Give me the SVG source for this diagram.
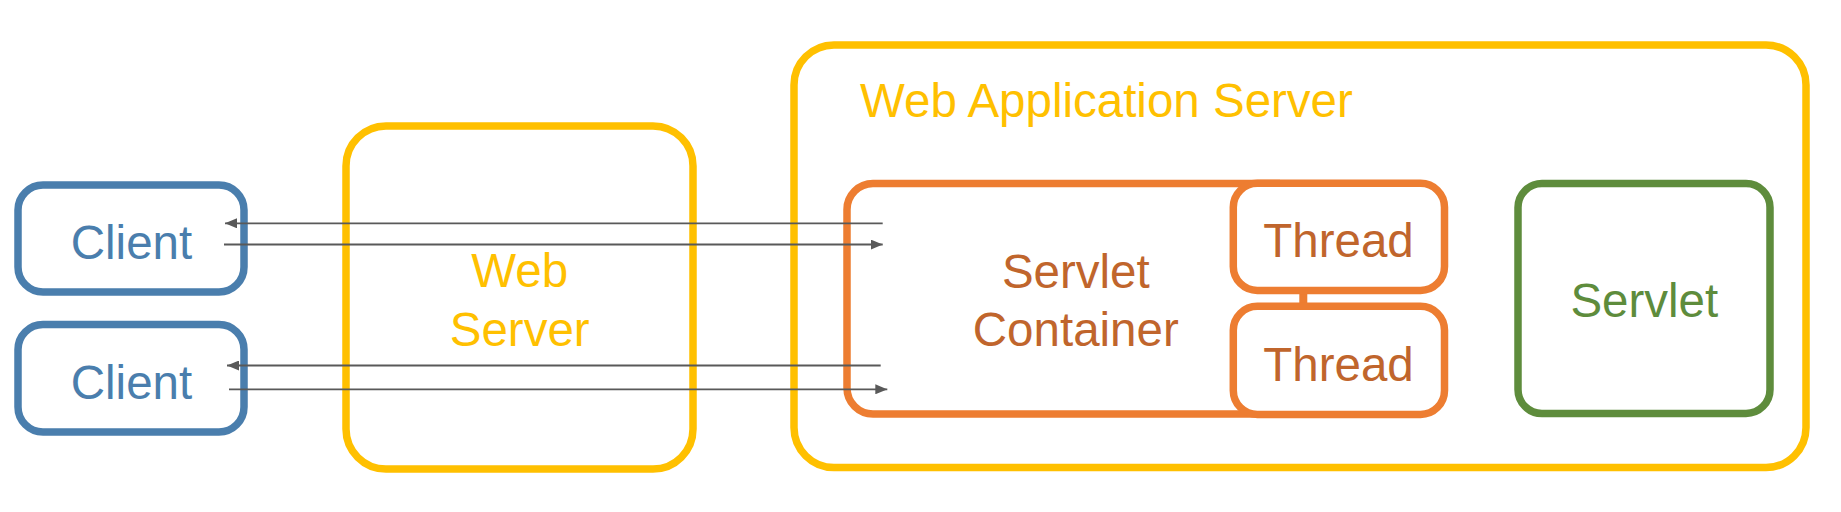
<svg xmlns="http://www.w3.org/2000/svg" width="1841" height="512" viewBox="0 0 1841 512">
  <style>
    .box { fill: #ffffff; stroke-width: 7.5; }
    .blue { stroke: #4A7EAD; }
    .yellow { stroke: #FFC000; }
    .orange { stroke: #ED7D31; }
    .green { stroke: #5E8C3C; }
    text { font-family: "Liberation Sans", Arial, sans-serif; font-size: 47.5px; }
    .tblue { fill: #4A7EAD; text-anchor: middle; }
    .tyellow { fill: #FFC000; text-anchor: middle; }
    .torange { fill: #C0652C; text-anchor: middle; }
    .tgreen { fill: #5E8C3C; text-anchor: middle; }
    .conn { stroke: #595959; stroke-width: 1.8; fill: none; marker-end: url(#arrow); }
  </style>
  <defs>
    <marker id="arrow" markerUnits="userSpaceOnUse" markerWidth="12" markerHeight="10" refX="12" refY="5" orient="auto">
      <path d="M0,0 L12,5 L0,10 z" fill="#595959"/>
    </marker>
  </defs>
  <rect width="1841" height="512" fill="#ffffff"/>

  <g id="client1">
    <rect class="box blue" x="18" y="185" width="226" height="107" rx="25"/>
    <text class="tblue" x="131.5" y="259">Client</text>
  </g>
  <g id="client2">
    <rect class="box blue" x="18" y="324.5" width="226" height="107.5" rx="25"/>
    <text class="tblue" x="131.5" y="399">Client</text>
  </g>
  <g id="web-server">
    <rect class="box yellow" x="346" y="126" width="347" height="343" rx="40"/>
    <text class="tyellow" x="519.7" y="287.3">Web</text>
    <text class="tyellow" x="519.7" y="346">Server</text>
  </g>
  <g id="web-application-server">
    <rect class="box yellow" x="794" y="45" width="1012" height="422.5" rx="40"/>
    <text x="860" y="116.7" fill="#FFC000">Web Application Server</text>
  </g>
  <g id="servlet-container">
    <path class="box orange" d="M1280,183.5 H873 A26,26 0 0 0 847,209.5 V388 A26,26 0 0 0 873,414 H1280"/>
    <text class="torange" x="1075.8" y="288.3">Servlet</text>
    <text class="torange" x="1075.8" y="346">Container</text>
  </g>
  <g id="thread-link">
    <line x1="1303.3" y1="290" x2="1303.3" y2="307" stroke="#ED7D31" stroke-width="8"/>
  </g>
  <g id="thread1">
    <rect class="box orange" x="1233.3" y="183.3" width="211.2" height="107.2" rx="24"/>
    <text class="torange" x="1338.5" y="257.3">Thread</text>
  </g>
  <g id="thread2">
    <rect class="box orange" x="1233.3" y="306.3" width="211.2" height="108.2" rx="24"/>
    <text class="torange" x="1338.5" y="380.7">Thread</text>
  </g>
  <g id="servlet">
    <rect class="box green" x="1518" y="183.5" width="252" height="230" rx="24"/>
    <text class="tgreen" x="1644.3" y="317.3">Servlet</text>
  </g>

  <g id="connectors">
    <line class="conn" x1="882.7" y1="223.3" x2="225" y2="223.3"/>
    <line class="conn" x1="224" y1="244.5" x2="882.7" y2="244.5"/>
    <line class="conn" x1="880.7" y1="365.5" x2="227" y2="365.5"/>
    <line class="conn" x1="229" y1="389.3" x2="887.3" y2="389.3"/>
  </g>
</svg>
